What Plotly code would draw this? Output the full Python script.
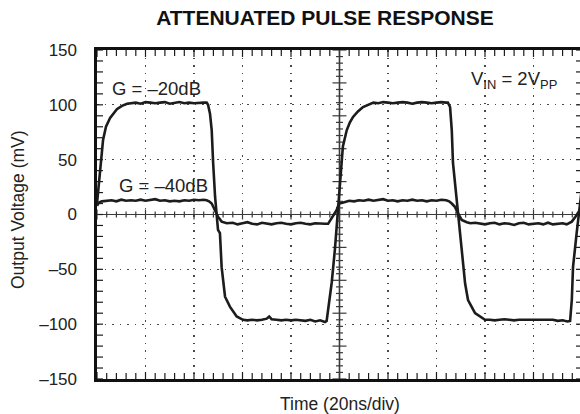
import plotly.graph_objects as go

# ---------------- data (time in ns, voltage in mV) ----------------
T20 = [0, 1.2, 2.5, 3.7, 5.4, 8.2, 10.3, 12.4,
       14, 16, 18, 20, 22, 24, 26, 28, 30, 32, 34, 36, 38, 40, 42, 44, 45.2,
       45.8, 46.6, 47.3, 47.9, 48.7, 49.9, 50.7, 51.4, 52.0, 52.8, 54.8, 57.6, 60.2,
       62, 64, 66, 68, 70, 71, 72, 74, 76, 78, 80, 82, 84, 86, 88, 90, 92, 94, 94.7,
       95.3, 96.1, 96.8, 98.1, 98.8, 99.4, 100.2, 101.4, 103.0, 104.3, 105.6, 107.6, 109.7, 112.6,
       114, 116, 118, 120, 122, 124, 126, 128, 130, 132, 134, 136, 138, 140, 142, 144, 144.7,
       145.6, 146.3, 146.8, 148.3, 148.9, 149.7, 150.4, 151.8, 153.0, 155.9, 159.2,
       160, 162, 164, 166, 168, 170, 172, 174, 176, 178, 180, 182, 184, 186, 188, 190, 192, 194, 195.1,
       195.8, 196.3, 197.8, 198.9, 200]
V20 = [10, 40, 68, 80, 88, 96, 99, 101,
       101.5, 102, 101, 102.5, 102, 101.5, 102, 102.5, 101, 102, 102.5, 101.5, 102, 101.5, 102, 102, 102,
       100, 92, 77, 47, 16, -14, -17, -48, -62, -75, -84, -93, -96,
       -96.5, -96, -96.5, -96, -95, -93, -95.5, -96, -96.5, -96, -96.5, -96, -96.5, -97, -96, -97.5, -96.5, -98, -97,
       -87, -75, -62, -32, -11, 4, 31, 62, 77, 84, 89, 94, 98, 101,
       102, 101.5, 102.5, 102, 101.5, 102, 102.5, 102, 101, 102, 102.5, 102, 101.5, 102, 102.5, 102, 102,
       98, 77, 47, 16, -2, -17, -32, -63, -78, -90, -95,
       -96, -96, -96.5, -96, -95.5, -96, -96.5, -96, -96, -96.5, -96, -96.5, -96, -96.5, -96, -97, -96.5, -97.5, -97,
       -78, -48, -17, 4, 25]

T40 = [0, 0.8, 2,
       4, 6, 8, 10, 12, 14, 16, 18, 20, 22, 24, 26, 28, 30, 32, 34, 36, 38, 40, 42, 44, 45.2,
       46.2, 47.3, 48.7, 49.9, 51.4, 53.5,
       56, 58, 60, 62, 64, 66, 68, 70, 72, 74, 76, 78, 80, 82, 84, 86, 88, 90, 92, 94,
       95.3, 96.1, 96.8, 97.7, 98.8, 99.8, 100.9, 103,
       104, 106, 108, 110, 112, 114, 116, 118, 120, 122, 124, 126, 128, 130, 132, 134, 136, 138, 140, 142, 144,
       145.2, 146.3, 147.6, 148.9, 150.4, 152.5,
       154, 156, 158, 160, 162, 164, 166, 168, 170, 172, 174, 176, 178, 180, 182, 184, 186, 188, 190, 192, 193.7,
       195.8, 197.3, 198.7, 200]
V40 = [8, 11, 12,
       12.5, 13, 12, 13.5, 12.5, 13, 12.5, 13.5, 12.5, 13, 14, 12.5, 13, 12, 12.5, 12, 13, 12.5, 13.5, 13, 13.5, 13,
       12, 10, 4, -2, -6.5, -8,
       -7.5, -9, -8, -7, -8.5, -9, -7.5, -8, -9, -8, -7.5, -8.5, -9, -8, -7.5, -8.5, -9, -8, -8.5, -8.5,
       -8.5, -6, -3, 0, 4, 10, 10.5, 12,
       12.5, 12, 13, 12.5, 13.5, 12.5, 13, 14, 12.5, 13, 12, 13, 12.5, 13.5, 12.5, 13, 12, 13, 12.5, 13.5, 13,
       12, 10, 7, 1, -5, -7,
       -8, -7.5, -8.5, -9, -8, -7.5, -9, -8, -8.5, -9.5, -8, -7.5, -9, -8.5, -8, -9, -7.5, -9, -8.5, -8, -9,
       -6.5, -2, 2.5, 7]

assert len(T20) == len(V20), (len(T20), len(V20))
assert len(T40) == len(V40), (len(T40), len(V40))

Y_TICKS = [-150, -100, -50, 0, 50, 100, 150]
Y_TICK_TEXT = ["–150", "–100", "–50", "0", "50", "100", "150"]
X_GRID = [0, 20, 40, 60, 80, 100, 120, 140, 160, 180, 200]

FONT = "Liberation Sans, Arial, Helvetica, sans-serif"
INK = "#1c1c1c"
GRID = "#4a4a4a"

fig = go.Figure()
fig.add_trace(go.Scatter(x=T20, y=V20, mode="lines", line=dict(color=INK, width=2.6),
                         hoverinfo="skip", showlegend=False))
fig.add_trace(go.Scatter(x=T40, y=V40, mode="lines", line=dict(color=INK, width=2.6),
                         hoverinfo="skip", showlegend=False))

shapes = []


def tick_h(yv, anchor, a, b, layer="between", w=1.2, color=INK):
    shapes.append(dict(type="line", xref="x", yref="y", xsizemode="pixel", xanchor=anchor,
                       x0=a, x1=b, y0=yv, y1=yv, line=dict(color=color, width=w), layer=layer))


def tick_v(xv, anchor, a, b, layer="between", w=1.2, color=INK):
    shapes.append(dict(type="line", xref="x", yref="y", ysizemode="pixel", yanchor=anchor,
                       y0=a, y1=b, x0=xv, x1=xv, line=dict(color=color, width=w), layer=layer))


# frame ticks (left / right every 10 mV, top / bottom every 4 ns)
for k in range(-15, 16):
    v = k * 10
    tick_h(v, 0, 0, 6)
    tick_h(v, 200, -6, 0)
for k in range(0, 51):
    t = k * 4
    ln = 7 if k % 5 == 0 else 6
    tick_v(t, -150, 0, ln)
    tick_v(t, 150, -ln, 0)

# centre cross-hair
shapes.append(dict(type="line", xref="x", yref="y", x0=100, x1=100, y0=-150, y1=150,
                   line=dict(color="#3a3a3a", width=1.6), layer="between"))
for k in range(0, 51):
    t = k * 4
    ln = 5 if k % 5 == 0 else 3
    tick_v(t, 0, -ln, ln, color="#3a3a3a")
for k in range(-25, 26):
    v = k * 6
    ln = 7 if k % 5 == 0 else 3.5
    tick_h(v, 100, -ln, ln, color="#3a3a3a")

fig.update_layout(
    width=580, height=414,
    margin=dict(l=97, r=0, t=50, b=35),
    paper_bgcolor="white", plot_bgcolor="white",
    font=dict(family=FONT, color="#222222"),
    title=dict(text="ATTENUATED PULSE RESPONSE", x=0.5603, xanchor="center",
               xref="container", yref="container", y=1 - 17.5 / 414, yanchor="middle",
               font=dict(size=21, family=FONT, weight="bold", color="#111111")),
    shapes=shapes,
    xaxis=dict(range=[0, 199.18], tickvals=X_GRID, showticklabels=False, ticks="",
               showgrid=True, gridcolor=GRID, gridwidth=1.3, griddash="1.5px,6px",
               zeroline=False, showline=True, linecolor="#111111", linewidth=2.6, mirror=True,
               fixedrange=True),
    yaxis=dict(range=[-150, 150], tickvals=Y_TICKS, ticktext=Y_TICK_TEXT, ticks="",
               tickfont=dict(size=17, family=FONT, color="#222222"), ticklabelstandoff=14,
               showgrid=True, gridcolor=GRID, gridwidth=1.3, griddash="1.5px,6px",
               zeroline=True, zerolinecolor="#3a3a3a", zerolinewidth=1.6,
               showline=True, linecolor="#111111", linewidth=2.6, fixedrange=True),
    annotations=[
        dict(text="G = –20dB", x=5.4, y=115.3, xref="x", yref="y", xanchor="left", yanchor="middle",
             showarrow=False, font=dict(size=18.5, family=FONT, color="#222222")),
        dict(text="G = –40dB", x=8.2, y=26.9, xref="x", yref="y", xanchor="left", yanchor="middle",
             showarrow=False, font=dict(size=18.5, family=FONT, color="#222222")),
        dict(text="V<sub>IN</sub> = 2V<sub>PP</sub>", x=153.6, y=123, xref="x", yref="y",
             xanchor="left", yanchor="middle", showarrow=False,
             font=dict(size=18.5, family=FONT, color="#222222")),
        dict(text="Output Voltage (mV)", x=(18 - 97) / 483, y=(379 - 210) / 329, xref="paper", yref="paper",
             textangle=-90, xanchor="center", yanchor="middle", showarrow=False,
             font=dict(size=17.5, family=FONT, color="#222222")),
        dict(text="Time (20ns/div)", x=(340 - 97) / 483, y=(379 - 404) / 329, xref="paper", yref="paper",
             xanchor="center", yanchor="middle", showarrow=False,
             font=dict(size=17.5, family=FONT, color="#222222")),
    ],
)

fig.write_html(
    "out.html",
    config={"displayModeBar": False, "staticPlot": True},
    post_script="document.body.style.margin='0';document.body.style.overflow='hidden';",
)
